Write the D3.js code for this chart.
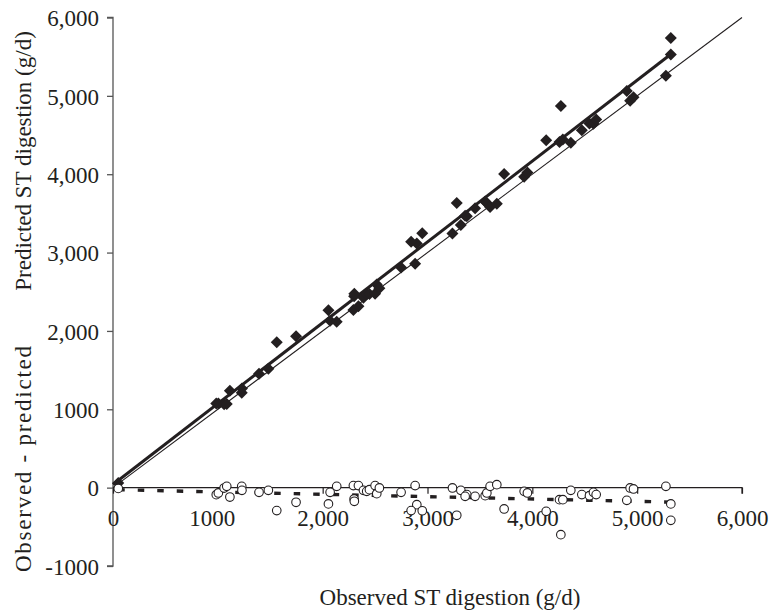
<!DOCTYPE html>
<html>
<head>
<meta charset="utf-8">
<script src="https://cdn.jsdelivr.net/npm/d3@7"></script>
<style>
  html, body { margin: 0; padding: 0; background: #fff; }
  svg { display: block; }
  text { font-family: "Liberation Serif", "Times New Roman", serif; fill: #231f20; }
</style>
</head>
<body>
<svg id="chart" width="773" height="615"></svg>
<script>
// Observed starch digestion (g/d) for each observation
const observed = [
  50, 985, 1005, 1060, 1085, 1115, 1228, 1230, 1393, 1482,
  1562, 1746, 2055, 2071, 2134, 2293, 2300, 2302, 2341, 2389,
  2420, 2446, 2500, 2516, 2541, 2748, 2882, 2898, 2844, 2950,
  3238, 3318, 3375, 3359, 3279, 3454, 3550, 3566, 3597, 3661,
  3731, 3922, 3953, 4132, 4259, 4291, 4272, 4367, 4472, 4545,
  4583, 4609, 4933, 4965, 4901, 5274, 5321, 5321
];
// Model-predicted starch digestion (g/d)
const predicted = [
  60, 1075, 1073, 1065, 1068, 1235, 1211, 1264, 1453, 1516,
  1855, 1933, 2263, 2131, 2117, 2267, 2444, 2476, 2315, 2423,
  2467, 2472, 2474, 2593, 2545, 2808, 2856, 3115, 3137, 3245,
  3242, 3352, 3464, 3470, 3632, 3565, 3652, 3634, 3580, 3623,
  4003, 3969, 4021, 4434, 4412, 4444, 4872, 4401, 4561, 4647,
  4643, 4698, 4937, 4982, 5063, 5257, 5529, 5738
];
// Residuals, observed - predicted (g/d)
const residual = [
  -10, -90, -68, -5, 17, -120, 17, -34, -60, -34,
  -293, -187, -208, -60, 17, 26, -144, -174, 26, -34,
  -47, -26, 26, -77, -4, -60, 26, -217, -293, -295,
  -4, -34, -89, -111, -353, -111, -102, -68, 17, 38,
  -272, -47, -68, -302, -153, -153, -600, -34, -89, -102,
  -60, -89, -4, -17, -162, 17, -208, -417
];

// Fitted lines: [intercept, slope] and observed range they span
const predictedFit = [40, 1.032];
const residualFit = [-25, -0.030];
const fitRange = [0, 5330];
const residualFitRange = [50, 5330];
const identityRange = [0, 6000];

// Tick values and their printed labels
const xTicks = [0, 1000, 2000, 3000, 4000, 5000, 6000];
const xTickLabels = ["0", "1000", "2,000", "3,000", "4,000", "5,000", "6,000"];
const yTicks = [6000, 5000, 4000, 3000, 2000, 1000, 0, -1000];
const yTickLabels = ["6,000", "5,000", "4,000", "3,000", "2,000", "1000", "0", "-1000"];

const ink = "#231f20";
const fontSize = 23;
const svg = d3.select("#chart");

const x = d3.scaleLinear().domain([0, 6000]).range([113, 742]);
const y = d3.scaleLinear().domain([-1000, 6000]).range([566, 17.5]);

// Left axis
const yAxis = d3.axisLeft(y).tickValues(yTicks)
  .tickFormat((d, i) => yTickLabels[i]).tickSize(6).tickPadding(8);
const gy = svg.append("g").attr("transform", `translate(${x(0)},0)`).call(yAxis);
gy.select(".domain").attr("stroke", "#555").attr("stroke-width", 1.3).attr("d", `M-6,${y(6000)}H0V${y(-1000)}H-6`);
gy.selectAll(".tick line").attr("stroke", "#555").attr("stroke-width", 1.3);
gy.selectAll(".tick text").attr("font-size", fontSize).attr("font-family", "Liberation Serif")
  .attr("fill", ink).attr("dy", "0.36em");

// Bottom axis drawn along zero residual
const xAxis = d3.axisBottom(x).tickValues(xTicks)
  .tickFormat((d, i) => xTickLabels[i]).tickSize(6).tickPadding(0);
const gx = svg.append("g").attr("transform", `translate(0,${y(0)})`).call(xAxis);
gx.select(".domain").attr("stroke", ink).attr("stroke-width", 1.2).attr("d", `M${x(0)},0H${x(6000)}V6`);
gx.selectAll(".tick line").attr("stroke", ink).attr("stroke-width", 1.2);
gx.selectAll(".tick text").attr("font-size", fontSize).attr("font-family", "Liberation Serif")
  .attr("fill", ink).attr("y", 38).attr("dy", 0)
  .attr("dx", (d, i) => xTickLabels[i] === "1000" ? -6 : 0);

// Axis titles
svg.append("text")
  .attr("transform", `translate(31,161) rotate(-90)`)
  .attr("text-anchor", "middle").attr("font-size", fontSize)
  .text("Predicted ST digestion (g/d)");
svg.append("text")
  .attr("transform", `translate(31,459) rotate(-90)`)
  .attr("text-anchor", "middle").attr("font-size", fontSize)
  .attr("textLength", 226).attr("lengthAdjust", "spacing")
  .text("Observed - predicted");
svg.append("text")
  .attr("x", 450).attr("y", 605)
  .attr("text-anchor", "middle").attr("font-size", fontSize)
  .text("Observed ST digestion (g/d)");

// 1:1 line
const line = d3.line().x(d => x(d[0])).y(d => y(d[1]));
svg.append("path")
  .attr("d", line(identityRange.map(v => [v, v])))
  .attr("stroke", ink).attr("stroke-width", 1.1).attr("fill", "none");

// Regression of predicted on observed
svg.append("path")
  .attr("d", line(fitRange.map(v => [v, predictedFit[0] + predictedFit[1] * v])))
  .attr("stroke", ink).attr("stroke-width", 3).attr("fill", "none");

// Regression of residuals on observed
svg.append("path")
  .attr("d", line(residualFitRange.map(v => [v, residualFit[0] + residualFit[1] * v])))
  .attr("stroke", ink).attr("stroke-width", 3.4).attr("fill", "none")
  .attr("stroke-dasharray", "6.5 13");

// Predicted vs observed: filled diamonds
const diamond = "M0,-6L6,0L0,6L-6,0Z";
svg.append("g").selectAll("path")
  .data(observed.map((o, i) => [o, predicted[i]]))
  .join("path")
  .attr("d", diamond)
  .attr("transform", d => `translate(${x(d[0])},${y(d[1])})`)
  .attr("fill", ink);

// Residuals: open circles
svg.append("g").selectAll("circle")
  .data(observed.map((o, i) => [o, residual[i]]))
  .join("circle")
  .attr("cx", d => x(d[0])).attr("cy", d => y(d[1]))
  .attr("r", 4.3)
  .attr("fill", "#fff").attr("stroke", ink).attr("stroke-width", 1.1);
</script>
</body>
</html>
